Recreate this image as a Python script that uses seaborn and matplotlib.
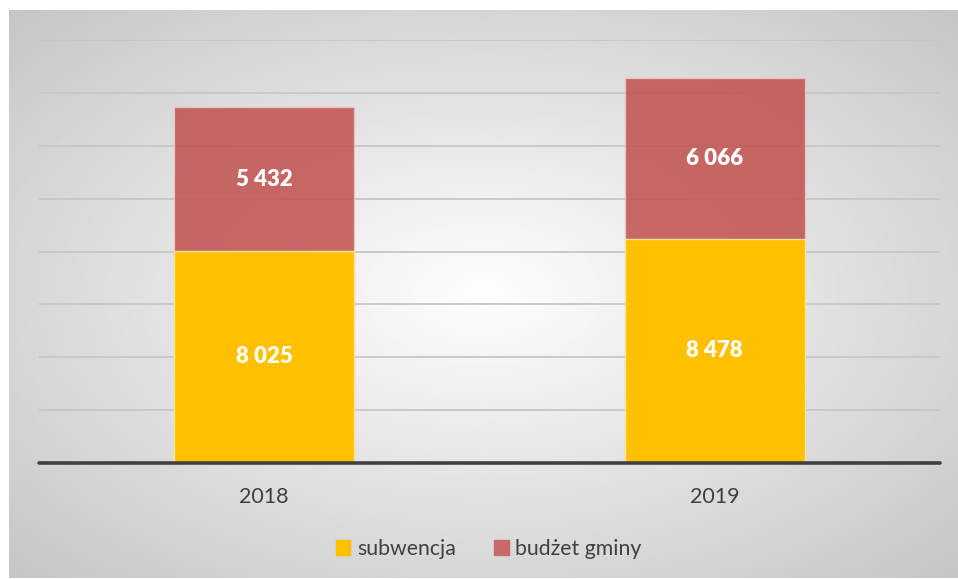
import numpy as np
import pandas as pd
import matplotlib
matplotlib.use("Agg")
import matplotlib.pyplot as plt
import seaborn as sns
from matplotlib.patches import Patch

years = ["2018", "2019"]
subwencja = [8025, 8478]
budzet_gminy = [5432, 6066]

YELLOW = "#FFC000"
RED = "#C0504D"

sns.set_theme(style="white")
plt.rcParams['font.family'] = ['Lato', 'DejaVu Sans']

df = pd.DataFrame({"rok": years, "subwencja": subwencja, "budzet": budzet_gminy})
df["total"] = df["subwencja"] + df["budzet"]

fig = plt.figure(figsize=(9.58, 5.79), dpi=100, facecolor="white")

# radial gradient panel behind the chart
bg = fig.add_axes([9 / 958, 1 / 579, 949 / 958, 568 / 579], zorder=0)
yy, xx = np.mgrid[-1:1:300j, -1:1:500j]
r = np.sqrt(xx ** 2 + yy ** 2)
shade = np.clip(254 - 40 * r, 0, 255) / 255.0
bg.imshow(shade, cmap="gray", vmin=0, vmax=1, aspect="auto", extent=[0, 1, 0, 1])
bg.set_axis_off()

ax = fig.add_axes([39 / 958, 116 / 579, 901 / 958, 423 / 579], zorder=1)
ax.patch.set_alpha(0)

sns.barplot(data=df, x="rok", y="total", color=RED, alpha=0.85, width=0.4,
            edgecolor="#F2C4C3", linewidth=1, saturation=1, ax=ax, zorder=3)
sns.barplot(data=df, x="rok", y="subwencja", color=YELLOW, width=0.4,
            edgecolor="#FFE49A", linewidth=1, saturation=1, ax=ax, zorder=4)

fmt = lambda v: f"{v:,}".replace(",", " ")
for i, (s, b) in enumerate(zip(subwencja, budzet_gminy)):
    ax.text(i, s / 2, fmt(s), ha="center", va="center", color="white",
            fontsize=16, fontweight="heavy", zorder=5)
    ax.text(i, s + b / 2, fmt(b), ha="center", va="center", color="white",
            fontsize=16, fontweight="heavy", zorder=5)

ax.set_ylim(0, 16000)
ax.set_xlim(-0.5, 1.5)
ax.set_yticks(np.arange(0, 16001, 2000))
ax.set_yticklabels([])
ax.yaxis.grid(True, color="#C6C6C6", linewidth=1.3, zorder=1)
ax.set_axisbelow(True)
for sp in ax.spines.values():
    sp.set_visible(False)
ax.axhline(0, color="#404040", linewidth=2.6, zorder=6, clip_on=False)
ax.tick_params(axis="x", length=0, pad=17, labelsize=15.5, labelcolor="#404040")
ax.tick_params(axis="y", length=0)
ax.set_xlabel("")
ax.set_ylabel("")

handles = [Patch(facecolor=YELLOW, edgecolor=YELLOW, label="subwencja"),
           Patch(facecolor="#C96A68", edgecolor="#C96A68", label="budżet gminy")]
fig.legend(handles=handles, loc="center", bbox_to_anchor=(0.51, 0.052), ncol=2,
           frameon=False, fontsize=15.3, handlelength=0.7, handleheight=0.7,
           handletextpad=0.3, columnspacing=1.8, labelcolor="#404040")

fig.savefig("out.png", dpi=100, facecolor="white")
